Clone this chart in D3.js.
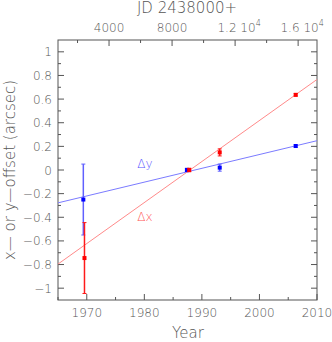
<!DOCTYPE html>
<html>
<head>
<meta charset="utf-8">
<script src="https://cdn.jsdelivr.net/npm/d3@7"></script>
<style>
  body { margin: 0; background: #fff; }
  text { font-family: "DejaVu Sans", sans-serif; font-weight: 200; fill: #555; }
</style>
</head>
<body>
<div id="chart"></div>
<script>
// data
var years = [1969.4, 1987.4, 1993.1, 2006.3]
var dy = [-0.25, 0.0, 0.02, 0.203]
var dyErr = [0.30, 0.015, 0.03, 0.01]
var xYears = [1969.6, 1987.8, 1993.1, 2006.3]
var dx = [-0.745, 0.0, 0.149, 0.636]
var dxErr = [0.30, 0.015, 0.03, 0.01]
// fitted lines (value at 1965, value at 2010)
var fitY = [-0.278, 0.248]
var fitX = [-0.796, 0.766]
var jdTicks = [4000, 8000, 12000, 16000]
var jdLabels = ["4000", "8000", "1.2 10", "1.6 10"]

var W = 332, H = 342
var margin = {top: 40, right: 15, bottom: 42, left: 58}

var svg = d3.select("#chart").append("svg")
  .attr("width", W)
  .attr("height", H)

var x = d3.scaleLinear().domain([1965, 2010]).range([margin.left, W - margin.right])
var y = d3.scaleLinear().domain([-1.1, 1.1]).range([H - margin.bottom, margin.top])
// JD 2438000 -> decimal year
var jd0 = 1970 - 2587.5 / 365.25
var jdToYear = d => jd0 + d / 365.25

var frame = "#555"

// frame
svg.append("rect")
  .attr("x", x(1965)).attr("y", y(1.1))
  .attr("width", x(2010) - x(1965)).attr("height", y(-1.1) - y(1.1))
  .attr("fill", "none").attr("stroke", frame).attr("stroke-width", 1)

// ticks helper
function ticksX(vals, len, isTop) {
  svg.append("g").selectAll("line").data(vals).enter().append("line")
    .attr("x1", d => x(d)).attr("x2", d => x(d))
    .attr("y1", isTop ? y(1.1) : y(-1.1))
    .attr("y2", isTop ? y(1.1) + len : y(-1.1) - len)
    .attr("stroke", frame)
}
function ticksY(vals, len) {
  svg.append("g").selectAll("line").data(vals).enter().append("line")
    .attr("x1", x(1965)).attr("x2", x(1965) + len)
    .attr("y1", d => y(d)).attr("y2", d => y(d))
    .attr("stroke", frame)
  svg.append("g").selectAll("line").data(vals).enter().append("line")
    .attr("x1", x(2010)).attr("x2", x(2010) - len)
    .attr("y1", d => y(d)).attr("y2", d => y(d))
    .attr("stroke", frame)
}

ticksX(d3.range(1970, 2011, 10), 6, false)
ticksX(d3.range(1965, 2010, 10), 3, false)
ticksX(jdTicks.map(jdToYear), 6, true)
ticksX([2000, 6000, 10000, 14000].map(jdToYear), 3, true)
ticksY(d3.range(-1, 1.01, 0.2).map(v => +v.toFixed(1)), 6)
ticksY(d3.range(-0.9, 1.0, 0.2).map(v => +v.toFixed(1)), 3)

// bottom labels
svg.append("g").selectAll("text").data(d3.range(1970, 2011, 10)).enter().append("text")
  .attr("x", d => x(d)).attr("y", 317)
  .attr("text-anchor", "middle").style("font-size", "12px")
  .text(d => d)

// left labels
svg.append("g").selectAll("text").data(d3.range(-1, 1.01, 0.2).map(v => +v.toFixed(1))).enter().append("text")
  .attr("x", 52).attr("y", d => y(d) + 4.5)
  .attr("text-anchor", "end").style("font-size", "12px")
  .text(d => (d < 0 ? "\u2212" + Math.abs(d) : d))

// top labels
var topLab = svg.append("g").selectAll("text").data(jdTicks).enter().append("text")
  .attr("x", (d, i) => x(jdToYear(d)) + (i > 1 ? 4 : 0))
  .attr("y", 32)
  .attr("text-anchor", "middle").style("font-size", "12px")
topLab.append("tspan").text((d, i) => jdLabels[i])
topLab.filter((d, i) => i > 1).append("tspan")
  .attr("dy", -6).style("font-size", "8px").text("4")

svg.append("text")
  .attr("x", 187).attr("y", 13)
  .attr("text-anchor", "middle").style("font-size", "15px")
  .text("JD 2438000+")

svg.append("text")
  .attr("x", 188).attr("y", 338)
  .attr("text-anchor", "middle").style("font-size", "15px")
  .text("Year")

svg.append("text")
  .attr("transform", "translate(15," + y(0) + ") rotate(-90)")
  .attr("text-anchor", "middle").style("font-size", "15px")
  .text("x\u2014 or y\u2014offset (arcsec)")

// fit lines
svg.append("line")
  .attr("x1", x(1965)).attr("y1", y(fitY[0])).attr("x2", x(2010)).attr("y2", y(fitY[1]))
  .attr("stroke", "#7b7bff").attr("stroke-width", 1)
svg.append("line")
  .attr("x1", x(1965)).attr("y1", y(fitX[0])).attr("x2", x(2010)).attr("y2", y(fitX[1]))
  .attr("stroke", "#ff8a8a").attr("stroke-width", 1)

// points with error bars
function series(xs, vals, errs, col, barCol) {
  var g = svg.append("g")
  var pts = xs.map((d, i) => ({x: d, v: vals[i], e: errs[i]}))
  g.selectAll(".eb").data(pts).enter().append("line")
    .attr("x1", d => x(d.x)).attr("x2", d => x(d.x))
    .attr("y1", d => y(d.v + d.e)).attr("y2", d => y(d.v - d.e))
    .attr("stroke", barCol).attr("stroke-width", 1.5)
  g.selectAll(".cap1").data(pts).enter().append("line")
    .attr("x1", d => x(d.x) - 2).attr("x2", d => x(d.x) + 2)
    .attr("y1", d => y(d.v + d.e)).attr("y2", d => y(d.v + d.e))
    .attr("stroke", barCol)
  g.selectAll(".cap2").data(pts).enter().append("line")
    .attr("x1", d => x(d.x) - 2).attr("x2", d => x(d.x) + 2)
    .attr("y1", d => y(d.v - d.e)).attr("y2", d => y(d.v - d.e))
    .attr("stroke", barCol)
  g.selectAll("rect").data(pts).enter().append("rect")
    .attr("x", d => x(d.x) - 2).attr("y", d => y(d.v) - 2)
    .attr("width", 4).attr("height", 4)
    .attr("fill", col)
}
series(years, dy, dyErr, "#0000ff", "#6060ff")
series(xYears, dx, dxErr, "#ff0000", "#ff1a1a")

// series labels
svg.append("text")
  .attr("x", 145).attr("y", 168)
  .attr("text-anchor", "middle").style("font-size", "12px").style("fill", "#5555ff")
  .text("\u0394y")
svg.append("text")
  .attr("x", 145).attr("y", 221)
  .attr("text-anchor", "middle").style("font-size", "12px").style("fill", "#ff5555")
  .text("\u0394x")
</script>
</body>
</html>
